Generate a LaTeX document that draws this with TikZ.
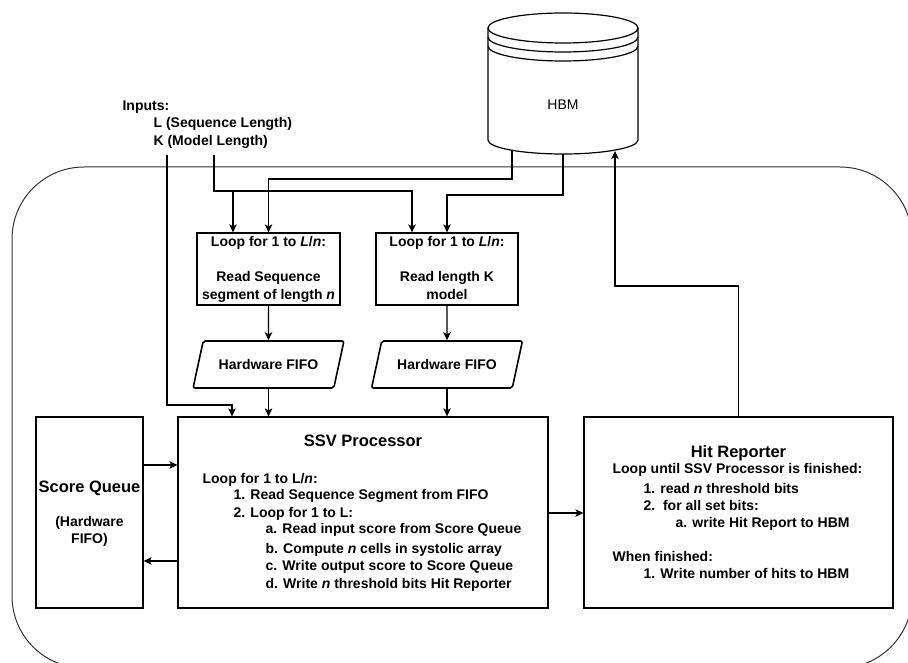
\documentclass[tikz,border=0pt]{standalone}
\usepackage{fontspec}
\setmainfont{Liberation Sans}
\usetikzlibrary{arrows.meta,shapes.geometric}
\begin{document}
\begin{tikzpicture}[x=1pt,y=-1pt,
  line width=1.2pt,
  arr/.style={-{Stealth[length=8pt,width=7.5pt,inset=2pt]}},
  box/.style={draw, inner sep=0pt},
  txt/.style={inner sep=0pt, font=\fontsize{14}{17.5}\selectfont\bfseries},
  ttl/.style={inner sep=0pt, font=\fontsize{16.5}{20}\selectfont\bfseries},
  fifo/.style={draw, trapezium, trapezium left angle=53, trapezium right angle=127,
    trapezium stretches=true, minimum width=151pt, minimum height=47pt, inner sep=0pt,
    line width=1.6pt, rounded corners=2pt, font=\fontsize{14}{17.5}\selectfont\bfseries}
]
\useasboundingbox (0,0) rectangle (908,663);
\clip (0,0) rectangle (908,663);
\fill[white] (0,0) rectangle (908,663);

% outer rounded frame
\draw[line width=1pt, black!80, rounded corners=72pt] (12,167) rectangle (912,668);

% HBM datastore
\fill[white] (488,28) -- (488,140) arc[start angle=180, end angle=0, x radius=75, y radius=14] -- (638,28) -- cycle;
\fill[white] (563,28) ellipse[x radius=75, y radius=15];
\draw (488,28) -- (488,140) arc[start angle=180, end angle=0, x radius=75, y radius=14] -- (638,28);
\draw (563,28) ellipse[x radius=75, y radius=15];
\draw (488,37) arc[start angle=180, end angle=0, x radius=75, y radius=15];
\draw (488,46) arc[start angle=180, end angle=0, x radius=75, y radius=15];
\node[inner sep=0pt, font=\fontsize{14}{17}\selectfont] (hbm) at (563,105) {HBM};
\coordinate (h1) at (512,150);
\coordinate (h2) at (563,154);
\coordinate (h3) at (615,151);

% inputs
\node[txt, anchor=base west] (inp) at (122,111) {Inputs:};
\node[txt, anchor=base west] (inL) at (153,128) {L (Sequence Length)};
\node[txt, anchor=base west] (inK) at (153,145.5) {K (Model Length)};
\coordinate (in1) at (167,155);
\coordinate (in2) at (214,155);

% loop boxes
\node[box, minimum width=143pt, minimum height=72pt] (b1) at (268.5,269) {};
\node[box, minimum width=142pt, minimum height=72pt] (b2) at (447,269) {};
\node[txt, anchor=base] (b1l1) at (268.5,247) {Loop for 1 to \textit{L}/\textit{n}:};
\node[txt, anchor=base] (b1l2) at (268.5,282) {Read Sequence};
\node[txt, anchor=base] (b1l3) at (268.5,299.5) {segment of length \textit{n}};
\node[txt, anchor=base] (b2l1) at (447,247) {Loop for 1 to \textit{L}/\textit{n}:};
\node[txt, anchor=base] (b2l2) at (447,282) {Read length K};
\node[txt, anchor=base] (b2l3) at (447,299.5) {model};

% FIFOs
\node[fifo] (f1) at (268.5,364.5) {Hardware FIFO};
\node[fifo] (f2) at (447,364.5) {Hardware FIFO};

% main boxes
\node[box, minimum width=107pt, minimum height=191pt] (sq) at (89.5,512.5) {};
\node[box, minimum width=370pt, minimum height=191pt] (ssv) at (363,512.5) {};
\node[box, minimum width=309pt, minimum height=191pt] (hit) at (738.5,512.5) {};

% score queue text
\node[ttl, anchor=base] (sqt) at (89.5,492) {Score Queue};
\node[txt, anchor=base] (sq1) at (89.5,526) {(Hardware};
\node[txt, anchor=base] (sq2) at (89.5,543.5) {FIFO)};

% SSV text
\node[ttl, anchor=base] (ssvt) at (363,446) {SSV Processor};
\node[txt, anchor=base west] (s1) at (202,483) {Loop for 1 to L/\textit{n}:};
\node[txt, anchor=base west] (s2) at (233,499) {1. Read Sequence Segment from FIFO};
\node[txt, anchor=base west] (s3) at (233,517) {2. Loop for 1 to L:};
\node[txt, anchor=base west] (s4) at (265,533) {a. Read input score from Score Queue};
\node[txt, anchor=base west] (s5) at (265,553) {b. Compute \textit{n} cells in systolic array};
\node[txt, anchor=base west] (s6) at (265,570) {c. Write output score to Score Queue};
\node[txt, anchor=base west] (s7) at (265,588) {d. Write \textit{n} threshold bits Hit Reporter};

% Hit reporter text
\node[ttl, anchor=base] (hitt) at (738.5,457) {Hit Reporter};
\node[txt, anchor=base west] (r1) at (612,473) {Loop until SSV Processor is finished:};
\node[txt, anchor=base west] (r2) at (643,493) {1. read \textit{n} threshold bits};
\node[txt, anchor=base west] (r3) at (643,510) {2.\ \ for all set bits:};
\node[txt, anchor=base west] (r4) at (675,527) {a. write Hit Report to HBM};
\node[txt, anchor=base west] (r5) at (612,561) {When finished:};
\node[txt, anchor=base west] (r6) at (643,578) {1. Write number of hits to HBM};

% connectors from HBM
\coordinate (m1) at (268.5,179);
\coordinate (m2) at (447,195);
\draw[arr] (h1) |- (m1) -- (b1.north);
\draw[arr] (h2) |- (m2) -- (b2.north);

% connectors from inputs
\coordinate (k0) at (233,191);
\coordinate (k1) at (412,191);
\draw[arr] (in2) |- (k1) -- (k1 |- b2.north);
\draw[arr] (k0) -- (k0 |- b1.north);
\coordinate (q1) at (232,405);
\draw[arr] (in1) |- (q1) -- (q1 |- ssv.north);

% boxes to FIFOs to SSV
\draw[arr] (b1.south) -- (f1.north);
\draw[arr] (b2.south) -- (f2.north);
\draw[arr] (f1.south) -- (f1.south |- ssv.north);
\draw[arr] (f2.south) -- (f2.south |- ssv.north);

% score queue <-> SSV
\coordinate (y1) at (0,465);
\coordinate (y2) at (0,561);
\draw[arr] (sq.east |- y1) -- (ssv.west |- y1);
\draw[arr] (ssv.west |- y2) -- (sq.east |- y2);

% SSV -> hit reporter
\coordinate (y3) at (0,513);
\draw[arr] (ssv.east |- y3) -- (hit.west |- y3);

% hit reporter -> HBM
\coordinate (u1) at (739,286);
\draw[arr] (hit.north) |- (h3 |- u1) -- (h3);
\end{tikzpicture}
\end{document}
